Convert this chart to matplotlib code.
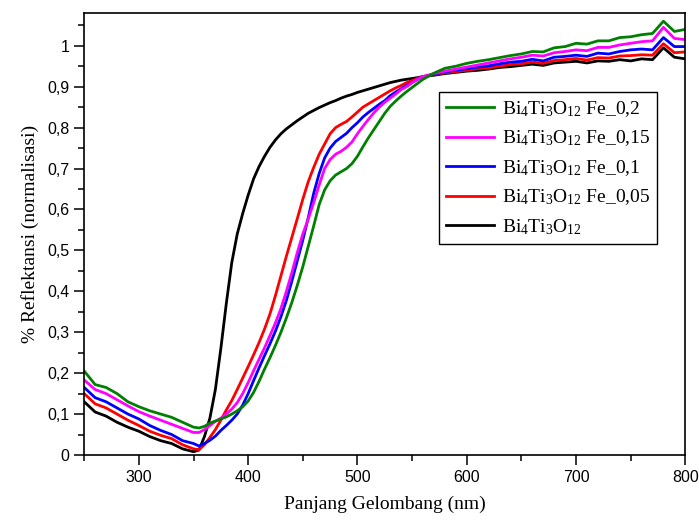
import numpy as np
import matplotlib
matplotlib.use('Agg')
import matplotlib.pyplot as plt
from matplotlib.ticker import MultipleLocator, FuncFormatter

plt.rcParams['mathtext.fontset'] = 'custom'
plt.rcParams['mathtext.rm'] = 'Liberation Serif'
plt.rcParams['mathtext.it'] = 'Liberation Serif:italic'

# wavelength grid (nm)
wl = np.concatenate([np.arange(250, 350, 10), np.arange(350, 565, 5), np.arange(570, 810, 10)])

black = [0.13, 0.105, 0.095, 0.08, 0.068, 0.058, 0.045, 0.035, 0.028, 0.015,
         0.008, 0.012, 0.045, 0.09, 0.16, 0.26, 0.37, 0.47, 0.54, 0.59, 0.635, 0.675, 0.705, 0.73,
         0.752, 0.77, 0.785, 0.797, 0.807, 0.817, 0.826, 0.835, 0.842, 0.849, 0.855, 0.861, 0.866,
         0.872, 0.877, 0.881, 0.886, 0.89, 0.894, 0.898, 0.902, 0.906, 0.91, 0.913, 0.916, 0.918,
         0.92, 0.922, 0.925,
         0.928, 0.932, 0.935, 0.938, 0.94, 0.943, 0.947, 0.949, 0.952, 0.955, 0.952, 0.958, 0.96,
         0.962, 0.958, 0.963, 0.962, 0.966, 0.963, 0.968, 0.966, 0.995, 0.972, 0.968]

red = [0.15, 0.125, 0.115, 0.1, 0.085, 0.072, 0.058, 0.048, 0.04, 0.025,
       0.015, 0.013, 0.025, 0.043, 0.062, 0.085, 0.11, 0.133, 0.16, 0.188, 0.216, 0.245, 0.275,
       0.308, 0.345, 0.39, 0.438, 0.486, 0.532, 0.578, 0.625, 0.668, 0.703, 0.735, 0.76, 0.785, 0.8,
       0.808, 0.815, 0.826, 0.838, 0.85, 0.858, 0.866, 0.874, 0.882, 0.89, 0.897, 0.903, 0.91,
       0.915, 0.92, 0.924,
       0.93, 0.934, 0.937, 0.94, 0.944, 0.946, 0.95, 0.954, 0.956, 0.96, 0.957, 0.964, 0.966,
       0.969, 0.965, 0.971, 0.97, 0.975, 0.976, 0.978, 0.977, 1.005, 0.983, 0.985]

blue = [0.165, 0.14, 0.13, 0.115, 0.1, 0.088, 0.072, 0.06, 0.05, 0.035,
        0.028, 0.022, 0.028, 0.036, 0.046, 0.06, 0.072, 0.085, 0.1, 0.122, 0.15, 0.182, 0.213,
        0.243, 0.272, 0.303, 0.338, 0.378, 0.425, 0.475, 0.525, 0.58, 0.64, 0.688, 0.726, 0.75,
        0.766, 0.776, 0.786, 0.8, 0.812, 0.826, 0.837, 0.847, 0.857, 0.866, 0.878, 0.887, 0.895,
        0.903, 0.91, 0.918, 0.924,
        0.93, 0.936, 0.94, 0.944, 0.948, 0.951, 0.956, 0.96, 0.962, 0.967, 0.963, 0.972, 0.974,
        0.977, 0.974, 0.982, 0.98, 0.986, 0.99, 0.992, 0.99, 1.02, 0.998, 0.998]

magenta = [0.183, 0.16, 0.15, 0.135, 0.12, 0.106, 0.095, 0.085, 0.075, 0.065,
           0.055, 0.055, 0.062, 0.072, 0.082, 0.09, 0.1, 0.112, 0.128, 0.15, 0.177, 0.206, 0.234,
           0.262, 0.292, 0.323, 0.358, 0.4, 0.446, 0.495, 0.54, 0.577, 0.617, 0.66, 0.7, 0.722,
           0.735, 0.742, 0.752, 0.765, 0.785, 0.803, 0.82, 0.836, 0.85, 0.862, 0.872, 0.882, 0.893,
           0.9, 0.91, 0.918, 0.925,
           0.932, 0.938, 0.943, 0.948, 0.953, 0.958, 0.963, 0.968, 0.972, 0.977, 0.975, 0.983, 0.986,
           0.99, 0.988, 0.996, 0.996, 1.002, 1.006, 1.01, 1.012, 1.045, 1.018, 1.015]

green = [0.205, 0.172, 0.165, 0.15, 0.13, 0.118, 0.108, 0.1, 0.092, 0.08,
         0.068, 0.066, 0.07, 0.078, 0.083, 0.088, 0.093, 0.1, 0.108, 0.118, 0.132, 0.153, 0.18,
         0.21, 0.238, 0.268, 0.3, 0.335, 0.373, 0.415, 0.46, 0.51, 0.56, 0.612, 0.648, 0.67,
         0.684, 0.692, 0.7, 0.712, 0.73, 0.753, 0.775, 0.795, 0.815, 0.835, 0.852, 0.865, 0.877,
         0.888, 0.898, 0.908, 0.918,
         0.933, 0.945, 0.95, 0.957, 0.962, 0.966, 0.971, 0.976, 0.98, 0.986, 0.985, 0.995, 0.998,
         1.006, 1.004, 1.012, 1.012, 1.02, 1.022, 1.027, 1.03, 1.06, 1.035, 1.04]

labels = [r'Bi$_{\mathrm{4}}$Ti$_{\mathrm{3}}$O$_{\mathrm{12}}$ Fe_0,2',
          r'Bi$_{\mathrm{4}}$Ti$_{\mathrm{3}}$O$_{\mathrm{12}}$ Fe_0,15',
          r'Bi$_{\mathrm{4}}$Ti$_{\mathrm{3}}$O$_{\mathrm{12}}$ Fe_0,1',
          r'Bi$_{\mathrm{4}}$Ti$_{\mathrm{3}}$O$_{\mathrm{12}}$ Fe_0,05',
          r'Bi$_{\mathrm{4}}$Ti$_{\mathrm{3}}$O$_{\mathrm{12}}$']

fig = plt.figure(figsize=(6.99, 5.21), dpi=100)
ax = fig.add_axes([0.1205, 0.1267, 0.8599, 0.8483])

l_k, = ax.plot(wl, black, color='black', lw=2)
l_r, = ax.plot(wl, red, color='#ff0000', lw=2)
l_b, = ax.plot(wl, blue, color='#0000ff', lw=2)
l_m, = ax.plot(wl, magenta, color='#ff00ff', lw=2)
l_g, = ax.plot(wl, green, color='#008000', lw=2)

ax.set_xlim(250, 800)
ax.set_ylim(0, 1.08)
ax.xaxis.set_major_locator(MultipleLocator(100))
ax.xaxis.set_minor_locator(MultipleLocator(50))
ax.yaxis.set_major_locator(MultipleLocator(0.1))
ax.yaxis.set_minor_locator(MultipleLocator(0.05))

def fmt(v, pos):
    s = f'{v:.1f}'.replace('.', ',')
    if s.endswith(',0'):
        s = s[:-2]
    return s

ax.yaxis.set_major_formatter(FuncFormatter(fmt))
ax.tick_params(which='both', top=False, right=False, direction='out', width=1.1)
ax.tick_params(which='major', length=7, labelsize=11.5)
ax.tick_params(which='minor', length=4)
for lab in ax.get_xticklabels() + ax.get_yticklabels():
    lab.set_fontfamily('Liberation Sans')
for sp in ax.spines.values():
    sp.set_linewidth(1.2)

ax.set_xlabel('Panjang Gelombang (nm)', fontfamily='Liberation Serif', fontsize=14, labelpad=8)
ax.set_ylabel('% Reflektansi (normalisasi)', fontfamily='Liberation Serif', fontsize=14, labelpad=6)

leg = ax.legend([l_g, l_m, l_b, l_r, l_k], labels, loc='upper left',
                bbox_to_anchor=(0.59, 0.821), borderaxespad=0, frameon=True, fancybox=False,
                edgecolor='black', framealpha=1, handlelength=2.5, handletextpad=0.4,
                borderpad=0.35, labelspacing=0.5,
                prop={'family': 'Liberation Serif', 'size': 14})
leg.get_frame().set_linewidth(1.0)

fig.savefig('out.png', dpi=100)
